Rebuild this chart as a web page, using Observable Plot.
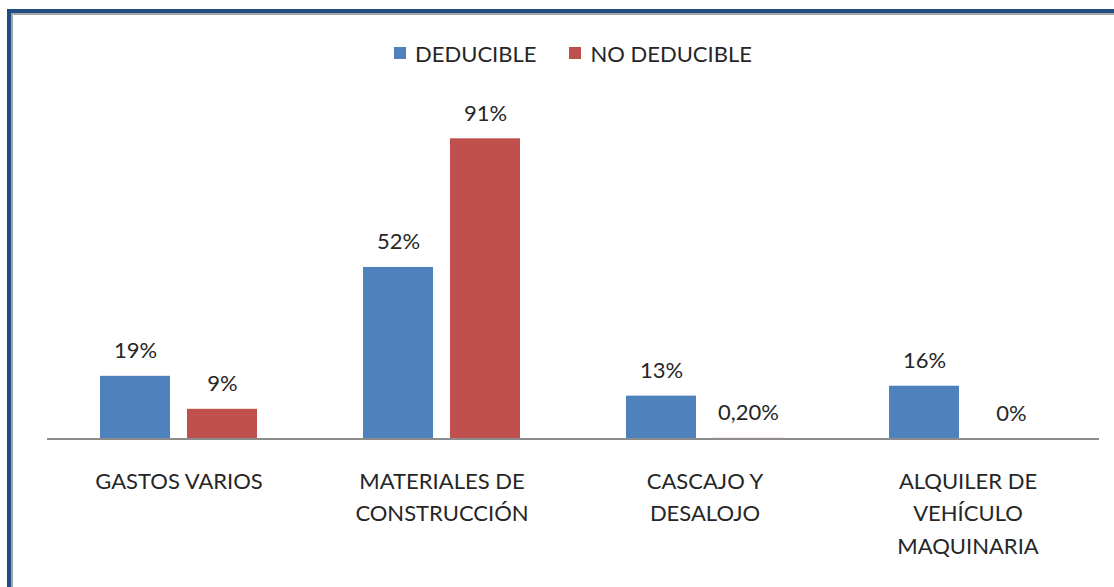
<!DOCTYPE html>
<html>
<head>
<meta charset="utf-8">
<script src="https://cdn.jsdelivr.net/npm/d3@7"></script>
<script src="https://cdn.jsdelivr.net/npm/@observablehq/plot@0.6"></script>
<style>
  html, body { margin: 0; padding: 0; background: #ffffff; }
  body { width: 1114px; height: 587px; overflow: hidden; position: relative; font-family: Lato, "Open Sans", sans-serif; color: #262626; }
  #frame { position: absolute; left: 7px; top: 9px; width: 1200px; height: 700px; border-left: 4px solid #1F4E85; border-top: 4px solid #1F4E85; }
  #frame2 { position: absolute; left: 11px; top: 13px; width: 1200px; height: 700px; border-left: 2px solid #A6A6A6; border-top: 2px solid #A6A6A6; }
  #legend { position: absolute; top: 40px; left: 47px; width: 1052px; height: 26px; display: flex; justify-content: center; align-items: center; font-size: 22px; font-weight: 400; }
  #legend .item { display: flex; align-items: center; }
  #legend .item + .item { margin-left: 33px; }
  #legend .sw { width: 12px; height: 12px; margin-right: 9px; }
  #chart { position: absolute; top: 70px; left: 0; }
</style>
</head>
<body>
<div id="frame"></div>
<div id="frame2"></div>
<div id="legend"></div>
<div id="chart"></div>
<script>
// ---- data ----
const categories = ["GASTOS VARIOS", "MATERIALES DE CONSTRUCCIÓN", "CASCAJO Y DESALOJO", "ALQUILER DE VEHÍCULO MAQUINARIA"];
const categoryLabels = ["GASTOS VARIOS", "MATERIALES DE\nCONSTRUCCIÓN", "CASCAJO Y\nDESALOJO", "ALQUILER DE\nVEHÍCULO\nMAQUINARIA"];
const series = ["DEDUCIBLE", "NO DEDUCIBLE"];
const deducible = [19, 52, 13, 16];
const noDeducible = [9, 91, 0.2, 0];
const seriesColors = ["#4F81BD", "#C0504D"];

const rows = categories.flatMap((c, i) => [
  {cat: c, serie: series[0], value: deducible[i]},
  {cat: c, serie: series[1], value: noDeducible[i]}
]);
const fmt = v => (v > 0 && v < 1 ? v.toFixed(2).replace(".", ",") : String(v)) + "%";

// ---- legend ----
const legend = document.getElementById("legend");
series.forEach((s, i) => {
  const item = document.createElement("div");
  item.className = "item";
  const sw = document.createElement("span");
  sw.className = "sw";
  sw.style.background = seriesColors[i];
  const t = document.createElement("span");
  t.textContent = s;
  item.appendChild(sw);
  item.appendChild(t);
  legend.appendChild(item);
});

// ---- chart ----
const textColor = "#262626";
const fs = 22;
const chart = Plot.plot({
  width: 1114,
  height: 517,
  marginLeft: 47,
  marginRight: 15,
  marginTop: 38.6,
  marginBottom: 148.5,
  style: {fontFamily: "Lato, 'Open Sans', sans-serif", background: "transparent"},
  fx: {domain: categories, paddingInner: 0, paddingOuter: 0, axis: null, label: null},
  x: {domain: series, paddingInner: 0.191, paddingOuter: 0.598, axis: null, label: null},
  y: {domain: [0, 100], axis: null, label: null},
  color: {domain: series, range: seriesColors},
  marks: [
    Plot.barY(rows, {fx: "cat", x: "serie", y: "value", fill: "serie"}),
    Plot.ruleY([0], {stroke: "#8C8C8C", strokeWidth: 2}),
    Plot.text(rows, {fx: "cat", x: "serie", y: "value", text: d => fmt(d.value), dy: -25, fontSize: fs, fill: textColor, lineAnchor: "middle"}),
    Plot.text(categories, {fx: d => d, y: 0, text: (d, i) => categoryLabels[i], lineAnchor: "top", dy: 26.5, lineHeight: 32.5 / fs, fontSize: fs, fill: textColor})
  ]
});
document.getElementById("chart").appendChild(chart);
</script>
</body>
</html>
